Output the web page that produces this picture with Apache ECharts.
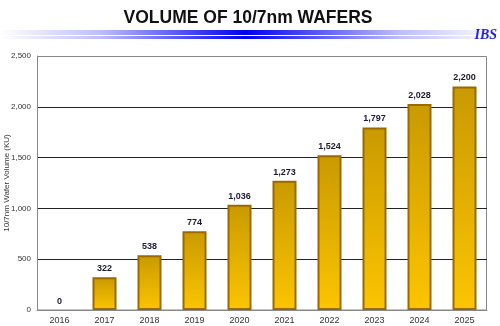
<!DOCTYPE html>
<html><head><meta charset="utf-8">
<script src="https://cdn.jsdelivr.net/npm/echarts@6/dist/echarts.min.js"></script>
<style>html,body{margin:0;padding:0;background:#fff}#c{width:500px;height:326px}</style>
</head><body><div id="c"></div>
<script>
const categories = ['2016','2017','2018','2019','2020','2021','2022','2023','2024','2025'];
const volumes = [0, 322, 538, 774, 1036, 1273, 1524, 1797, 2028, 2200];
const yTicks = { min: 0, max: 2500, interval: 500 };
const titleText = 'VOLUME OF 10/7nm WAFERS';
const yAxisName = '10/7nm Wafer Volume (KU)';

const chart = echarts.init(document.getElementById('c'), null, {renderer:'canvas'});
const blueGrad = new echarts.graphic.LinearGradient(0,0,1,0,[
  {offset:0,color:'rgba(255,255,255,1)'},
  {offset:0.2,color:'rgba(190,190,250,1)'},
  {offset:0.49,color:'rgba(0,0,240,1)'},
  {offset:0.8,color:'rgba(190,190,250,1)'},
  {offset:1,color:'rgba(255,255,255,1)'}
]);
const barData = volumes.map(v => v === 0 ? {value:v, itemStyle:{borderWidth:0}} : v);
chart.setOption({
  animation:false,
  title:{text:titleText,left:243,top:4,textAlign:'center',
    textStyle:{fontFamily:'Liberation Sans',fontWeight:'bold',fontSize:17.5,color:'#111'}},
  graphic:[
    {type:'rect',shape:{x:0,y:30,width:500,height:5},style:{fill:blueGrad},silent:true},
    {type:'rect',shape:{x:0,y:36,width:500,height:3},style:{fill:blueGrad},silent:true},
    {type:'text',right:3,top:28,style:{text:'IBS',fontFamily:'Liberation Serif',fontStyle:'italic',fontWeight:'bold',fontSize:14,fill:'#2323d8'}},
    {type:'rect',shape:{x:37.5,y:56.5,width:449,height:253.5},style:{fill:'none',stroke:'#888',lineWidth:1},silent:true,z:0}
  ],
  grid:{left:37,right:13,top:56,bottom:16,containLabel:false,outerBoundsMode:'none'},
  xAxis:{type:'category',data:categories,
    axisLine:{lineStyle:{color:'#888'}},axisTick:{show:false},
    axisLabel:{fontFamily:'Liberation Sans',fontSize:9,color:'#333',margin:6}},
  yAxis:{type:'value',min:yTicks.min,max:yTicks.max,interval:yTicks.interval,
    name:yAxisName,nameLocation:'middle',nameGap:26,nameRotate:90,nameMoveOverlap:false,
    nameTextStyle:{fontFamily:'Liberation Sans',fontSize:8,color:'#333'},
    axisLine:{show:true,lineStyle:{color:'#888'}},axisTick:{show:false},
    axisLabel:{fontFamily:'Liberation Sans',fontSize:8,color:'#333',margin:6},
    splitLine:{showMaxLine:false,lineStyle:{color:'#222',width:1}}},
  series:[{type:'bar',data:barData,barWidth:24,
    itemStyle:{
      color:new echarts.graphic.LinearGradient(0,0,0,1,[
        {offset:0,color:'#c99a00'},{offset:1,color:'#fcc500'}]),
      borderColor:'#9a6a00',borderWidth:2},
    label:{show:true,position:'top',distance:4,
      formatter:p=>p.value.toLocaleString('en-US'),
      fontFamily:'Liberation Sans',fontWeight:'bold',fontSize:9,color:'#1a1a33'}}]
});
</script></body></html>
